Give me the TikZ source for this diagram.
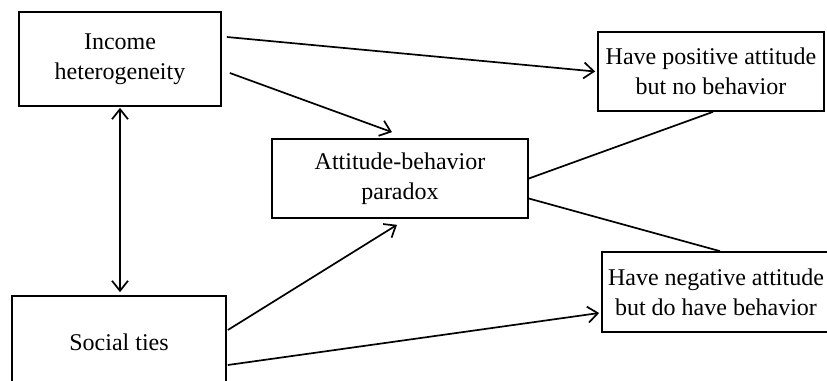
\documentclass[tikz,border=0pt]{standalone}
\usepackage{fontspec}
\setmainfont{Liberation Serif}
\usepackage{xcolor}
\usetikzlibrary{arrows.meta, positioning}
\tikzset{
  bx/.style={rectangle, draw=black, line width=0.85pt, fill=white,
             font=\fontsize{12}{15}\selectfont, align=center,
             minimum width=#1, inner sep=0pt},
  bx/.default=100pt,
  arr/.style={-{Straight Barb[length=5pt,width=8pt]}, line width=0.85pt},
  dbl/.style={{Straight Barb[length=5pt,width=8pt]}-{Straight Barb[length=5pt,width=8pt]}, line width=0.85pt},
  ln/.style={line width=0.85pt},
}
\begin{document}
\begin{tikzpicture}[x=0.5pt, y=-0.5pt]
  \clip (0,0) rectangle (827,381);
  \useasboundingbox (0,0) rectangle (827,381);
  % ── Nodes ──────────────────────────────────────────────────────────────────
  \node[bx=101pt, minimum height=47pt]   at (120, 59)   (inc) {Income\\heterogeneity};
  \node[bx=107pt, minimum height=46pt]   at (119, 342)  (soc) {Social ties};
  \node[bx=128pt, minimum height=39.5pt] at (400, 178.5)(att) {Attitude-behavior\\paradox};
  \node[bx=113pt, minimum height=39.5pt] at (711, 71.5) (pos) {Have positive attitude\\but no behavior};
  \node[bx=114pt, minimum height=40pt]   at (716, 292)  (neg) {Have negative attitude\\but do have behavior};

  % ── Arrows ─────────────────────────────────────────────────────────────────
  \draw[arr] ([xshift=2.5pt,yshift=11pt]inc.east) -- ([xshift=-1pt]pos.west);
  \draw[arr] ([xshift=4pt,yshift=-7pt]inc.east)   -- ([xshift=-4pt,yshift=3pt]att.north);
  \draw[dbl] ([yshift=-0.5pt]inc.south)           -- ([yshift=1.5pt]inc.south |- soc.north);
  \draw[arr] ([xshift=0.5pt,yshift=6pt]soc.east)  -- ([xshift=-1.5pt,yshift=-3pt]att.south);
  \draw[arr] ([xshift=0.5pt,yshift=-11.5pt]soc.east) -- ([xshift=-1pt,yshift=-10.5pt]neg.west);
  \draw[ln]  (att.east)                           -- ([xshift=1pt]pos.south);
  \draw[ln]  ([yshift=-10pt]att.east)             -- ([xshift=2pt]neg.north);
\end{tikzpicture}
\end{document}
